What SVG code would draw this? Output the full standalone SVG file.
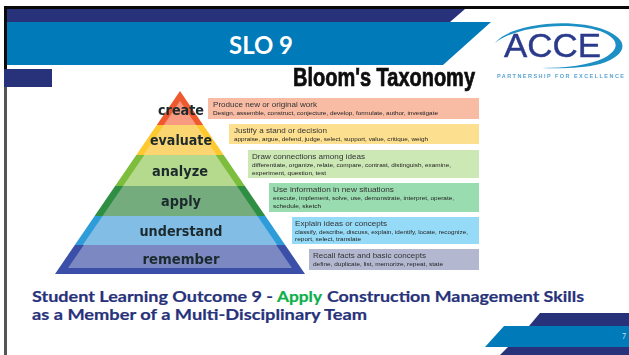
<svg xmlns="http://www.w3.org/2000/svg" width="629" height="355" viewBox="0 0 629 355">
<defs>
<filter id="soft" x="-5%" y="-5%" width="110%" height="110%"><feGaussianBlur stdDeviation="0.4"/></filter>
</defs>
<style>
.navy{fill:#27327a}
.blue{fill:#007ab8}
.tier{font-family:"DejaVu Sans",sans-serif;font-weight:700;font-size:14.5px;fill:#1d2a2e;text-anchor:middle}
.h{font-family:"Liberation Sans",sans-serif;font-size:7px;fill:#333}
.d{font-family:"Liberation Sans",sans-serif;font-size:5.6px;fill:#222}
.out{font-family:Lato,sans-serif;font-weight:700;font-size:15px;fill:#27327a;stroke:#27327a;stroke-width:.2}
</style>
<rect width="629" height="355" fill="#fff"/>
<g id="frame">
<rect x="4" y="6" width="625" height="3" fill="#0a0a0a"/>
<rect x="4" y="6" width="3" height="81" fill="#0a0a0a"/>
<rect x="4" y="87" width="3" height="268" fill="#555"/>
</g>
<g id="header">
<polygon class="navy" points="7,9 465,9 450,22 7,22"/>
<polygon class="blue" points="7,22 491,22 443,65 7,65"/>
<rect class="navy" x="4" y="69" width="48" height="18"/>
<text x="261" y="54" font-family="Lato, sans-serif" font-weight="700" font-size="24" fill="#fff" text-anchor="middle" textLength="64" lengthAdjust="spacingAndGlyphs">SLO 9</text>
</g>
<g id="logo" filter="url(#soft)">
<path d="M495 43C510 24 570 17 605 30C630 40 628 55 600 64C585 68 560 69 542 68C565 68 590 65 604 58C622 48 618 38 600 31C570 21 515 26 495 43Z" fill="#1f8fc4"/>
<text x="504" y="57" font-family="Liberation Sans, sans-serif" font-size="33" fill="#2c3a8c" stroke="#2c3a8c" stroke-width=".4" textLength="97" lengthAdjust="spacingAndGlyphs">ACCE</text>
<text x="497" y="78" font-family="Liberation Sans, sans-serif" font-weight="700" font-size="5.5" fill="#5aa3cf" textLength="127" lengthAdjust="spacing">PARTNERSHIP FOR EXCELLENCE</text>
</g>
<g id="bloom" filter="url(#soft)">
<text x="293" y="86" font-family="Liberation Sans, sans-serif" font-weight="700" font-size="25" fill="#0a0a0a" stroke="#0a0a0a" stroke-width=".7" textLength="182" lengthAdjust="spacingAndGlyphs">Bloom's Taxonomy</text>
<g id="pyramid">
<polygon fill="#ee5a2f" points="180,91 203.2,125 156.8,125"/>
<polygon fill="#f79a80" points="180,101 196.2,125 163.8,125"/>
<polygon fill="#fdc92f" points="156.8,125 203.2,125 223.7,155 136.3,155"/>
<polygon fill="#fad56f" points="163.8,125 196.2,125 216.7,155 143.3,155"/>
<polygon fill="#7dbd3c" points="136.3,155 223.7,155 244.9,186 115.1,186"/>
<polygon fill="#b5d98d" points="144.3,155 215.7,155 236.9,186 123.1,186"/>
<polygon fill="#2f8f43" points="115.1,186 244.9,186 265.4,216 94.6,216"/>
<polygon fill="#74ac7e" points="123.1,186 236.9,186 257.4,216 102.6,216"/>
<polygon fill="#2f9cd9" points="94.6,216 265.4,216 285.2,245 74.8,245"/>
<polygon fill="#82bde6" points="102.6,216 257.4,216 277.2,245 82.8,245"/>
<polygon fill="#3a4fa8" points="74.8,245 285.2,245 305,274 55,274"/>
<polygon fill="#7b88c2" points="83.8,245 276.2,245 292,268 68,268"/>
<text class="tier" x="181" y="115" textLength="46" lengthAdjust="spacingAndGlyphs">create</text>
<text class="tier" x="181" y="145" textLength="62" lengthAdjust="spacingAndGlyphs">evaluate</text>
<text class="tier" x="180" y="176" textLength="56" lengthAdjust="spacingAndGlyphs">analyze</text>
<text class="tier" x="181" y="206" textLength="40" lengthAdjust="spacingAndGlyphs">apply</text>
<text class="tier" x="181" y="236" textLength="83" lengthAdjust="spacingAndGlyphs">understand</text>
<text class="tier" x="181" y="264" textLength="77" lengthAdjust="spacingAndGlyphs">remember</text>
</g>
<g id="box-create">
<rect x="208" y="98" width="271" height="21" fill="#f8bba4"/>
<text class="h" x="213" y="107" textLength="104" lengthAdjust="spacingAndGlyphs">Produce new or original work</text>
<text class="d" x="213" y="115" textLength="225" lengthAdjust="spacingAndGlyphs">Design, assemble, construct, conjecture, develop, formulate, author, investigate</text>
</g>
<g id="box-evaluate">
<rect x="229" y="124" width="250" height="20" fill="#fde08f"/>
<text class="h" x="234" y="133" textLength="93" lengthAdjust="spacingAndGlyphs">Justify a stand or decision</text>
<text class="d" x="234" y="141" textLength="194" lengthAdjust="spacingAndGlyphs">appraise, argue, defend, judge, select, support, value, critique, weigh</text>
</g>
<g id="box-analyze">
<rect x="248" y="150" width="231" height="28" fill="#cce8b5"/>
<text class="h" x="252" y="159" textLength="113" lengthAdjust="spacingAndGlyphs">Draw connections among ideas</text>
<text class="d" x="252" y="167" textLength="199" lengthAdjust="spacingAndGlyphs">differentiate, organize, relate, compare, contrast, distinguish, examine,</text>
<text class="d" x="252" y="175" textLength="74" lengthAdjust="spacingAndGlyphs">experiment, question, test</text>
</g>
<g id="box-apply">
<rect x="269" y="183" width="210" height="29" fill="#99dcaf"/>
<text class="h" x="273" y="192" textLength="121" lengthAdjust="spacingAndGlyphs">Use information in new situations</text>
<text class="d" x="273" y="200" textLength="181" lengthAdjust="spacingAndGlyphs">execute, implement, solve, use, demonstrate, interpret, operate,</text>
<text class="d" x="273" y="208" textLength="48" lengthAdjust="spacingAndGlyphs">schedule, sketch</text>
</g>
<g id="box-understand">
<rect x="292" y="217" width="187" height="27" fill="#95daf7"/>
<text class="h" x="295" y="226" textLength="92" lengthAdjust="spacingAndGlyphs">Explain ideas or concepts</text>
<text class="d" x="295" y="234" textLength="173" lengthAdjust="spacingAndGlyphs">classify, describe, discuss, explain, identify, locate, recognize,</text>
<text class="d" x="295" y="241" textLength="66" lengthAdjust="spacingAndGlyphs">report, select, translate</text>
</g>
<g id="box-remember">
<rect x="309" y="249" width="170" height="21" fill="#b3b8d0"/>
<text class="h" x="313" y="258" textLength="113" lengthAdjust="spacingAndGlyphs">Recall facts and basic concepts</text>
<text class="d" x="313" y="266" textLength="130" lengthAdjust="spacingAndGlyphs">define, duplicate, list, memorize, repeat, state</text>
</g>
</g>
<g id="outcome">
<text class="out" x="32" y="302" textLength="241" lengthAdjust="spacingAndGlyphs">Student Learning Outcome 9 -</text>
<text class="out" x="277" y="302" textLength="45" lengthAdjust="spacingAndGlyphs" style="fill:#0cb04a;stroke:#0cb04a">Apply</text>
<text class="out" x="327" y="302" textLength="257" lengthAdjust="spacingAndGlyphs">Construction Management Skills</text>
<text class="out" x="32" y="320" textLength="335" lengthAdjust="spacingAndGlyphs">as a Member of a Multi-Disciplinary Team</text>
</g>
<g id="footer">
<polygon class="navy" points="540,313 629,313 629,326 529,326"/>
<polygon class="navy" points="508,347 629,347 629,355 500,355"/>
<polygon class="blue" points="504,326 629,326 629,347 485,347"/>
<text x="624" y="339" font-family="Lato, sans-serif" font-size="7" fill="#cde" text-anchor="middle">7</text>
</g>
</svg>
